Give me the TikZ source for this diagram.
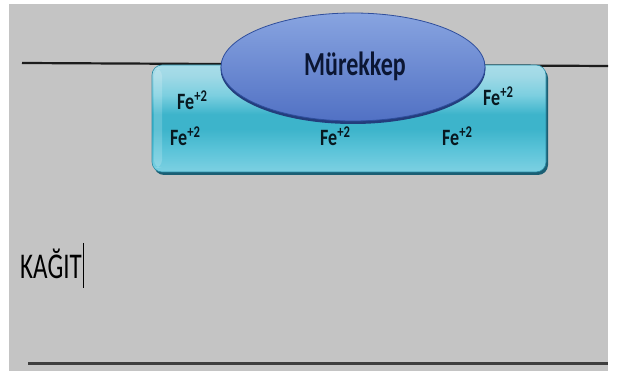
\documentclass[tikz,border=0pt]{standalone}
\usepackage{fontspec}
\setmainfont{Carlito}
\usetikzlibrary{shapes.geometric}
\definecolor{paper}{HTML}{C4C4C4}
\definecolor{rule}{HTML}{1C1C1C}
\definecolor{cyanedge}{HTML}{2A8CA6}
\definecolor{cyanshadow}{HTML}{1B5F74}
\definecolor{inktop}{HTML}{88A4E0}
\definecolor{inkbot}{HTML}{5171C4}
\definecolor{inkedge}{HTML}{2F4E9C}
\definecolor{inkshadow}{HTML}{233D7C}
\definecolor{inktext}{HTML}{0B1633}
\definecolor{iontext}{HTML}{081820}
% banded fill of the absorbed layer (25bp = bottom, 75bp = top)
\pgfdeclareverticalshading{layerfill}{100bp}{%
  color(0bp)=(rgb,255:red,125;green,208;blue,226);
  color(25bp)=(rgb,255:red,125;green,208;blue,226);
  color(35bp)=(rgb,255:red,92;green,196;blue,217);
  color(45bp)=(rgb,255:red,61;green,180;blue,203);
  color(52bp)=(rgb,255:red,61;green,180;blue,203);
  color(61bp)=(rgb,255:red,124;green,207;blue,224);
  color(70bp)=(rgb,255:red,160;green,217;blue,230);
  color(75bp)=(rgb,255:red,168;green,221;blue,233);
  color(100bp)=(rgb,255:red,168;green,221;blue,233)}
\tikzset{
  ion/.style={anchor=base west, inner sep=0pt, text=iontext,
    font=\fontsize{18}{18}\selectfont\bfseries},
  layer/.style={rounded corners=10pt},
}
\newcommand{\ionlabel}{\scalebox{1}[1.3]{Fe\textsuperscript{+2}}}
\begin{document}
\begin{tikzpicture}[x=1pt,y=-1pt]
\useasboundingbox (0,0) rectangle (619,371);
\fill[white] (0,0) rectangle (619,371);
\fill[paper] (9,4) rectangle (608,371);
% surface lines
\coordinate (topL) at (22,63);
\coordinate (topR) at (608,66);
\coordinate (botL) at (28,364);
\coordinate (botR) at (608,364);
\draw[rule, line width=2.2pt] (topL) -- (topR);
\draw[rule!85, line width=3pt] (botL) -- (botR);
% absorbed layer with iron ions
\fill[cyanshadow, layer] (154,68) rectangle (548,175);
\shade[layer, shading=layerfill, draw=cyanedge, line width=0.6pt]
  (152,65) rectangle (546,172);
\fill[white, opacity=0.18, rounded corners=8pt] (154,68) rectangle (162,168);
% ink drop
\node[ellipse, minimum width=265pt, minimum height=110pt, inner sep=0pt,
  fill=inkshadow] (inkshadow) at (353,69) {};
\node[ellipse, minimum width=264pt, minimum height=108pt, inner sep=0pt,
  top color=inktop, bottom color=inkbot, draw=inkedge, line width=0.8pt]
  (ink) at (353,67) {};
\node[anchor=base, inner sep=0pt, text=inktext,
  font=\fontsize{24}{24}\selectfont\bfseries] (inklabel) at (355,76)
  {\scalebox{1}[1.4]{Mürekkep}};
% ions
\node[ion] (fe1) at (177,110) {\ionlabel};
\node[ion] (fe2) at (170,146) {\ionlabel};
\node[ion] (fe3) at (320,146) {\ionlabel};
\node[ion] (fe4) at (442,146) {\ionlabel};
\node[ion] (fe5) at (483,106) {\ionlabel};
% paper label with text cursor
\node[anchor=base west, inner sep=0pt, text=black,
  font=\fontsize{25}{25}\selectfont] (paperlabel) at (20,279)
  {\scalebox{1}[1.45]{KAĞIT}};
\coordinate (curTop) at (83.5,243);
\coordinate (curBot) at (83.5,288);
\draw[black, line width=1.5pt] (curTop) -- (curBot);
\end{tikzpicture}
\end{document}
